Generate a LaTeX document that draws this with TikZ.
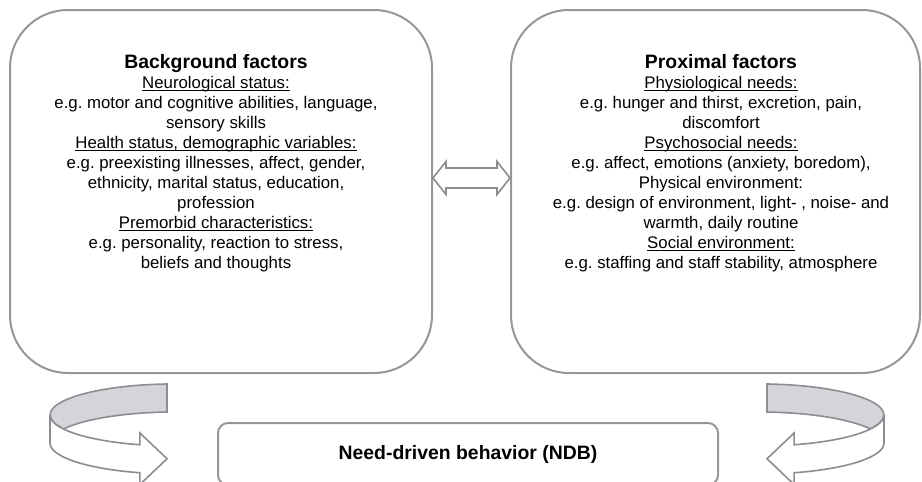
\documentclass[tikz,border=0pt]{standalone}
\usepackage{fontspec}
\setmainfont{Liberation Sans}
\usetikzlibrary{calc}
\frenchspacing

\definecolor{framegray}{RGB}{150,150,155}
\definecolor{bandgray}{RGB}{212,213,216}
\definecolor{curlgray}{RGB}{140,140,146}

\newcommand{\ulined}[1]{\setbox0\hbox{#1}\rlap{\vrule width\wd0 height -2pt depth 3.2pt}\box0}
\newcommand{\bodyfont}{\fontsize{16.8}{20}\selectfont}
\newcommand{\headfont}{\fontsize{19.4}{20}\selectfont\bfseries}

% one curled ribbon arrow, pointing right
\newcommand{\curlarrow}{
    \filldraw[fill=bandgray, draw=curlgray, line width=1.6] (167, 384)
        arc[start angle=266.3, end angle=153.1, x radius=125, y radius=31]
        arc[start angle=206.9, end angle=266.3, x radius=125, y radius=31] -- cycle;
    \filldraw[fill=white, draw=curlgray, line width=1.6] (50, 415)
        arc[start angle=180, end angle=106.3, x radius=125, y radius=31]
        -- (139.9, 433) -- (167, 458.75) -- (139.9, 484.5) -- (139.9, 472.75)
        arc[start angle=106.3, end angle=180, x radius=125, y radius=31] -- cycle;
}

\tikzset{
    factorbox/.style={draw=framegray, line width=2, rounded corners=58, inner sep=0},
    note/.style={align=center, inner sep=0, font=\bodyfont},
}

\begin{document}
\begin{tikzpicture}[x=1pt, y=-1pt]
                \clip (0, 0) rectangle (922, 482);

                \node[factorbox, minimum width=422, minimum height=363] (bg) at (221, 191.5) {};
                \node[factorbox, minimum width=409, minimum height=363] (prox) at (715.5, 191.5) {};
                \node[draw=framegray, line width=2, rounded corners=10, minimum width=500, minimum height=62, font=\headfont] (ndb) at (468, 454) {Need-driven behavior (NDB)};

                \node[note, anchor=north] (bgtext) at ($(bg.north) + (-5, 45)$) {{\headfont Background factors}\\
                    \ulined{Neurological status:}\\
                    e.g. motor and cognitive abilities, language,\\
                    sensory skills\\
                    \ulined{Health status, demographic variables:}\\
                    e.g. preexisting illnesses, affect, gender,\\
                    ethnicity, marital status, education,\\
                    profession\\
                    \ulined{Premorbid characteristics:}\\
                    e.g. personality, reaction to stress,\\
                    beliefs and thoughts};

                \node[note, anchor=north] (proxtext) at ($(prox.north) + (5.5, 45)$) {{\headfont Proximal factors}\\
                    \ulined{Physiological needs:}\\
                    e.g. hunger and thirst, excretion, pain,\\
                    discomfort\\
                    \ulined{Psychosocial needs:}\\
                    e.g. affect, emotions (anxiety, boredom),\\
                    Physical environment:\\
                    e.g. design of environment, light- , noise- and\\
                    warmth, daily routine\\
                    \ulined{Social environment:}\\
                    e.g. staffing and staff stability, atmosphere};

                % hollow double arrow between the two boxes
                \coordinate (lt) at ($(bg.east) + (0, -13.5)$);
                \coordinate (rt) at ($(prox.west) + (0, -13.5)$);
                \filldraw[fill=white, draw=curlgray, line width=1.6] (lt) -- ($(lt) + (13, -16.5)$) -- ($(lt) + (13, -10)$)
                    -- ($(rt) + (-13, -10)$) -- ($(rt) + (-13, -16.5)$) -- (rt) -- ($(rt) + (-13, 16.5)$)
                    -- ($(rt) + (-13, 10)$) -- ($(lt) + (13, 10)$) -- ($(lt) + (13, 16.5)$) -- cycle;

                % the two curls
                \curlarrow
                \begin{scope}[xshift=934, xscale=-1]
                    \curlarrow
                \end{scope}
            \end{tikzpicture}
\end{document}
